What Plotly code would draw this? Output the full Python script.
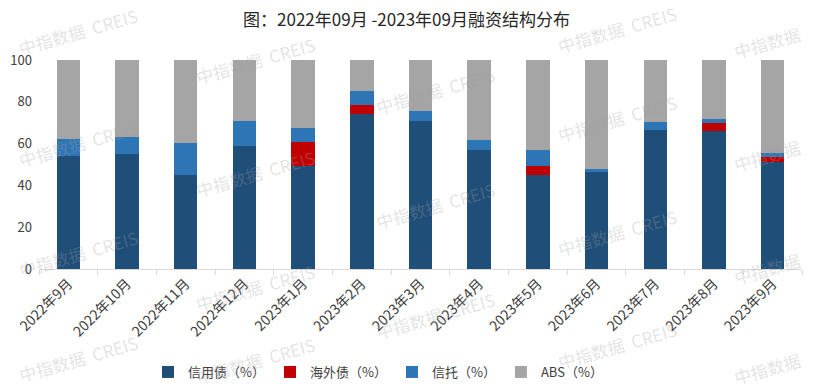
import plotly.graph_objects as go

months = ["2022年9月", "2022年10月", "2022年11月", "2022年12月", "2023年1月", "2023年2月",
          "2023年3月", "2023年4月", "2023年5月", "2023年6月", "2023年7月", "2023年8月", "2023年9月"]
credit = [54.1, 55.1, 45.1, 58.8, 49.4, 74.2, 70.9, 57.1, 45.2, 46.6, 66.6, 66.1, 51.3]
overseas = [0, 0, 0, 0, 11.4, 4.3, 0, 0, 4.2, 0, 0, 3.8, 2.4]
trust = [8.3, 8.1, 15.2, 12.1, 6.7, 6.7, 4.9, 4.8, 7.6, 1.3, 3.9, 1.9, 1.9]
abs_share = [round(100 - c - o - t, 1) for c, o, t in zip(credit, overseas, trust)]

series = [
    ("信用债（%）", credit, "#1F4E79"),
    ("海外债（%）", overseas, "#C00000"),
    ("信托（%）", trust, "#2E75B6"),
    ("ABS（%）", abs_share, "#A5A5A5"),
]

FONT = "Noto Sans CJK SC, Microsoft YaHei, sans-serif"
W, H = 813, 392
L, R, T, B = 39, 11, 60, 123
PW, PH = W - L - R, H - T - B

fig = go.Figure()
for name, vals, color in series:
    fig.add_trace(go.Bar(x=months, y=vals, name=name, marker=dict(color=color, line=dict(width=0))))

# faint watermarks (pixel centres converted to paper coordinates)
FULL = "中指数据  CREIS"
SHORT = "中指数据"
wm = [(78, 32, FULL), (78, 143, FULL), (78, 253, FULL), (78, 358, FULL),
      (255, 60, FULL), (255, 173, FULL), (255, 287, FULL), (255, 360, FULL),
      (435, 90, FULL), (435, 205, FULL), (435, 315, FULL),
      (617, 30, FULL), (617, 118, FULL), (617, 232, FULL), (617, 345, FULL),
      (767, 42, SHORT), (767, 155, SHORT), (767, 268, SHORT), (767, 368, SHORT)]
annotations = []
for x, y, t in wm:
    annotations.append(dict(x=(x - L) / PW, y=(H - B - y) / PH, xref="paper", yref="paper", text=t,
                            showarrow=False, textangle=-16, xanchor="center", yanchor="middle",
                            font=dict(family=FONT, size=17, color="rgba(160,160,160,0.3)")))

fig.update_layout(
    width=W, height=H,
    barmode="stack", bargap=0.6,
    paper_bgcolor="white", plot_bgcolor="white",
    margin=dict(l=L, r=R, t=T, b=B, autoexpand=False),
    font=dict(family=FONT, size=13, color="#404040"),
    title=dict(text="图：2022年09月 -2023年09月融资结构分布", x=0.5, xanchor="center",
               y=1 - 20 / H, yanchor="middle", font=dict(size=17, color="#262626")),
    legend=dict(orientation="h", x=(378 - L) / PW, xanchor="center", y=(H - B - 372) / PH, yanchor="middle",
                font=dict(size=13, color="#404040"), traceorder="normal", itemwidth=30),
    annotations=annotations,
)
fig.update_xaxes(showline=True, linecolor="#D9D9D9", linewidth=1, ticks="outside", tickson="boundaries",
                 ticklen=5, tickcolor="#D9D9D9", tickangle=-45, tickfont=dict(size=14, color="#404040"),
                 showgrid=False, automargin=False)
fig.update_yaxes(range=[0, 100], dtick=20, showgrid=False, zeroline=False, showline=False,
                 ticks="", tickfont=dict(size=13, color="#404040"), automargin=False,
                 ticklabelstandoff=6)

fig.write_html("out.html", config={"displayModeBar": False},
               post_script="document.body.style.margin='0px';")
